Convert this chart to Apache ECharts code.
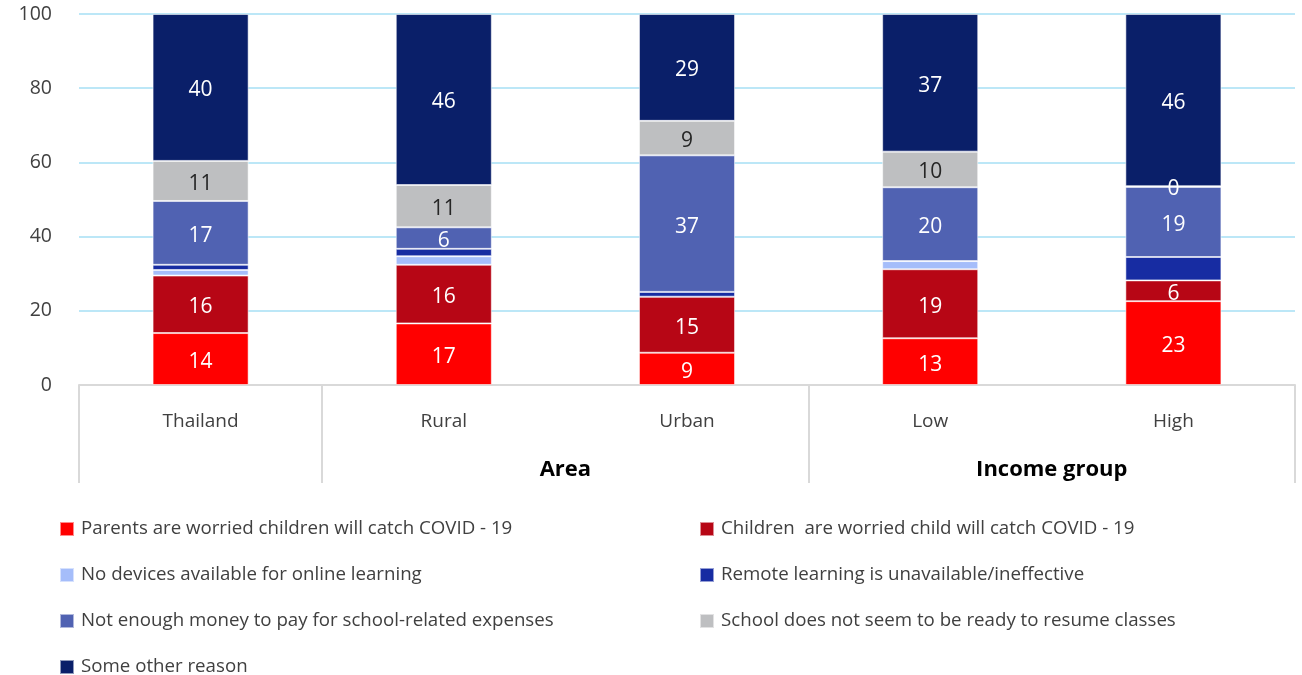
<!DOCTYPE html>
<html><head><meta charset="utf-8">
<script src="https://cdn.jsdelivr.net/npm/echarts@6/dist/echarts.min.js"></script>
<style>html,body{margin:0;padding:0;background:#fff}#c{width:1302px;height:675px}</style>
</head><body><div id="c"></div>
<script>
const categories = ['Thailand', 'Rural', 'Urban', 'Low', 'High'];
const groups = [
  { name: '', start: 0, count: 1 },
  { name: 'Area', start: 1, count: 2 },
  { name: 'Income group', start: 3, count: 2 }
];
const yTicks = [0, 20, 40, 60, 80, 100];

const parents  = [14.0, 16.6, 8.7, 12.6, 22.6];
const children = [15.5, 15.8, 15.1, 18.6, 5.6];
const devices  = [1.5, 2.3, 0, 2.2, 0];
const remote   = [1.4, 2.0, 1.3, 0, 6.3];
const money    = [17.2, 5.8, 36.8, 19.9, 18.9];
const school   = [10.8, 11.4, 9.3, 9.6, 0.2];
const other    = [39.6, 46.1, 28.8, 37.1, 46.4];

const seriesDefs = [
  { name: 'Parents are worried children will catch COVID - 19', data: parents, color: '#FF0000', label: true, labelColor: '#ffffff' },
  { name: 'Children  are worried child will catch COVID - 19', data: children, color: '#B70615', label: true, labelColor: '#ffffff' },
  { name: 'No devices available for online learning', data: devices, color: '#A5BDFA', label: false },
  { name: 'Remote learning is unavailable/ineffective', data: remote, color: '#172CA2', label: false },
  { name: 'Not enough money to pay for school-related expenses', data: money, color: '#5062B2', label: true, labelColor: '#ffffff' },
  { name: 'School does not seem to be ready to resume classes', data: school, color: '#BEBFC1', label: true, labelColor: '#262626' },
  { name: 'Some other reason', data: other, color: '#0A1F69', label: true, labelColor: '#ffffff' }
];

const FONT = 'Open Sans';
const groupBoundaries = groups.map(g => g.start);
const groupCenters = {};
groups.forEach(g => { if (g.name) groupCenters[g.start + g.count / 2] = g.name; });

const chart = echarts.init(document.getElementById('c'));
chart.setOption({
  animation: false,
  textStyle: { fontFamily: FONT },
  grid: { left: 79, right: 7, top: 14, bottom: 290, containLabel: false },
  legend: {
    left: 59, top: 519, width: 1290, padding: 0,
    icon: 'rect', itemWidth: 14, itemHeight: 14, itemGap: 26,
    selectedMode: false,
    textStyle: { fontFamily: FONT, fontSize: 18.7, color: '#404040', width: 592, lineHeight: 20, padding: [0, 0, 0, 2] },
    data: seriesDefs.map(s => s.name)
  },
  xAxis: [
    {
      type: 'category', data: categories,
      axisLine: { lineStyle: { color: '#D9D9D9', width: 2 } },
      axisTick: { show: true, length: 98, interval: (i) => groupBoundaries.indexOf(i) >= 0, lineStyle: { color: '#D9D9D9', width: 2 } },
      axisLabel: { margin: 27, fontSize: 19, color: '#404040', fontFamily: FONT }
    },
    {
      type: 'value', min: 0, max: categories.length, interval: 1, position: 'bottom',
      axisLine: { show: false }, axisTick: { show: false }, splitLine: { show: false },
      axisLabel: { margin: 74, fontSize: 22, fontWeight: 'bold', color: '#000000', fontFamily: FONT,
        formatter: v => groupCenters[v] || '' }
    }
  ],
  yAxis: {
    type: 'value', min: yTicks[0], max: yTicks[yTicks.length - 1], interval: 20,
    axisLine: { show: false }, axisTick: { show: false },
    splitLine: { lineStyle: { color: '#A6DFF4', width: 1.5 } },
    axisLabel: { margin: 27, fontSize: 19.5, color: '#404040', fontFamily: FONT, padding: [5, 0, 0, 0] }
  },
  series: seriesDefs.map(s => ({
    name: s.name, type: 'bar', stack: 'total', barWidth: '39.5%',
    itemStyle: { color: s.color, borderColor: 'rgba(255,255,255,0.55)', borderWidth: 1 },
    emphasis: { disabled: true },
    label: {
      show: s.label, position: 'inside', fontSize: 21, fontFamily: FONT, offset: [0, 3],
      color: s.labelColor, formatter: p => Math.round(p.value)
    },
    data: s.data.map(v => (s.label && v < 1) ? { value: v, label: { color: '#ffffff' } } : v)
  }))
});
</script></body></html>
